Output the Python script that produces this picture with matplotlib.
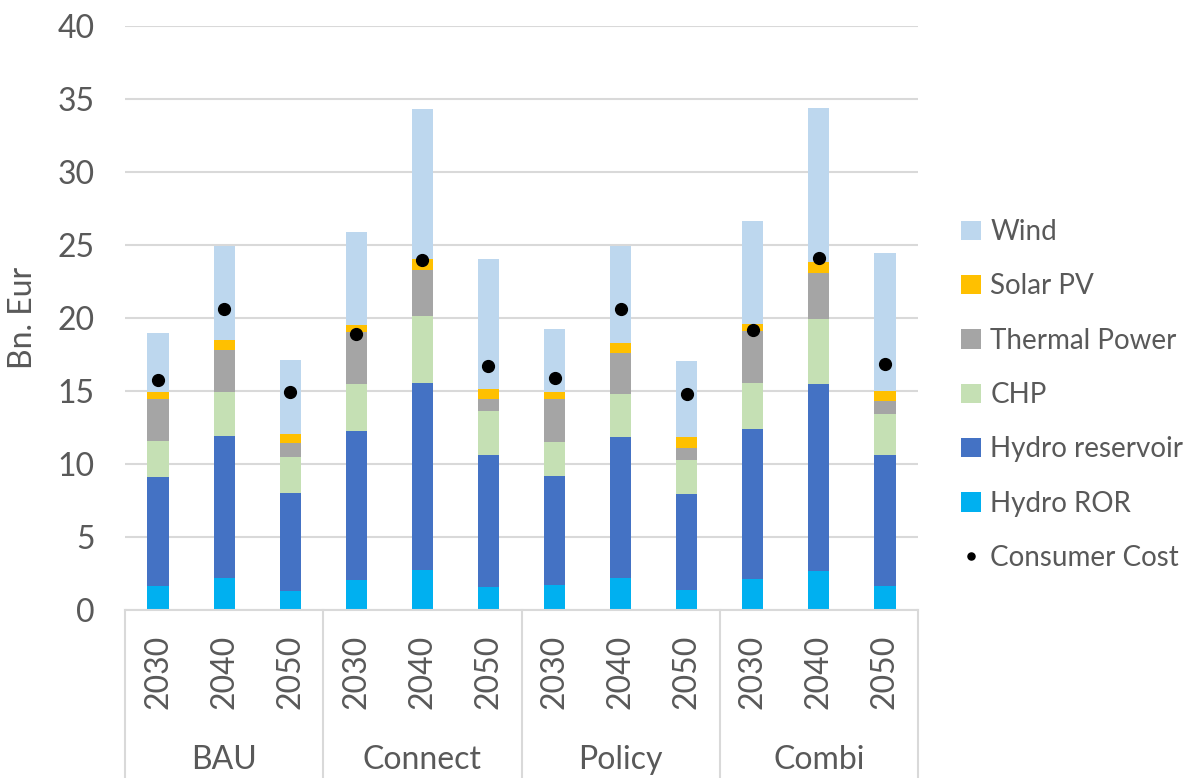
import matplotlib
matplotlib.use("Agg")
import matplotlib.pyplot as plt
import numpy as np

plt.rcParams['font.family'] = ['Lato', 'DejaVu Sans']

scenarios = ["BAU", "Connect", "Policy", "Combi"]
years = ["2030", "2040", "2050"]

# segment values, Bn. Eur, in order BAU 2030..2050, Connect, Policy, Combi
hydro_ror = [1.64, 2.21, 1.28, 2.05, 2.74, 1.55, 1.71, 2.17, 1.37, 2.12, 2.67, 1.64]
hydro_res = [7.45, 9.71, 6.76, 10.23, 12.83, 9.09, 7.49, 9.70, 6.60, 10.28, 12.81, 8.98]
chp = [2.46, 3.03, 2.44, 3.20, 4.57, 2.97, 2.28, 2.90, 2.28, 3.15, 4.43, 2.80]
thermal = [2.92, 2.84, 0.94, 3.54, 3.17, 0.84, 2.99, 2.83, 0.87, 3.58, 3.20, 0.87]
solar = [0.46, 0.70, 0.61, 0.48, 0.73, 0.71, 0.46, 0.69, 0.71, 0.48, 0.75, 0.73]
wind = [4.04, 6.44, 5.07, 6.39, 10.28, 8.88, 4.34, 6.64, 5.22, 7.03, 10.55, 9.43]
consumer_cost = [15.73, 20.59, 14.91, 18.88, 23.95, 16.69, 15.91, 20.59, 14.82, 19.16, 24.09, 16.87]

series = [
    ("Hydro ROR", hydro_ror, "#00B0F0"),
    ("Hydro reservoir", hydro_res, "#4472C4"),
    ("CHP", chp, "#C5E0B4"),
    ("Thermal Power", thermal, "#A5A5A5"),
    ("Solar PV", solar, "#FFC000"),
    ("Wind", wind, "#BDD7EE"),
]

txt = "#595959"
grid = "#D9D9D9"

fig = plt.figure(figsize=(12, 7.78), dpi=100)
ax = fig.add_axes([125/1200, 1-610/778, 793/1200, 584/778])

x = np.arange(len(hydro_ror))
bottom = np.zeros(len(x))
handles = []
for name, vals, col in series:
    b = ax.bar(x, vals, 0.32, bottom=bottom, color=col, label=name, zorder=2)
    bottom += np.array(vals)
    handles.append(b)

dots, = ax.plot(x, consumer_cost, 'o', color='black', ms=8.5, zorder=3, label="Consumer Cost")

ax.set_xlim(-0.5, len(x) - 0.5)
ax.set_ylim(0, 40)
ax.set_yticks(range(0, 41, 5))
ax.yaxis.grid(True, color=grid, lw=1.5, zorder=0)
ax.set_axisbelow(True)
for s in ['top', 'right', 'left']:
    ax.spines[s].set_visible(False)
ax.spines['bottom'].set_color(grid)
ax.spines['bottom'].set_linewidth(1.5)
ax.tick_params(axis='y', length=0, pad=22, labelsize=23, labelcolor=txt)
ax.set_xticks([])
ax.set_ylabel("Bn. Eur", fontsize=23, color=txt, va='center')
ax.yaxis.set_label_coords(-0.128, 0.5)

# two-level category axis
tr = ax.get_xaxis_transform()
for i in range(len(x)):
    ax.text(x[i], -0.106, years[i % 3], rotation=90, ha='center', va='center',
            fontsize=23, color=txt, transform=tr)
for g, name in enumerate(scenarios):
    ax.text(g*3 + 1, -0.257, name, ha='center', va='center', fontsize=23,
            color=txt, transform=tr)
for xs in np.arange(-0.5, len(x), 3):
    ax.plot([xs, xs], [0, -0.3], color=grid, lw=1.5, transform=tr, clip_on=False)

leg = fig.legend(handles[::-1] + [dots], [h.get_label() for h in handles[::-1]] + ["Consumer Cost"],
                 loc='center left', bbox_to_anchor=(950/1200, 1-395/778), frameon=False,
                 borderaxespad=0, fontsize=20, labelcolor=txt, handlelength=0.7,
                 handleheight=0.7, handletextpad=0.35, labelspacing=1.02, markerscale=0.6)

fig.savefig("out.png", dpi=100)
